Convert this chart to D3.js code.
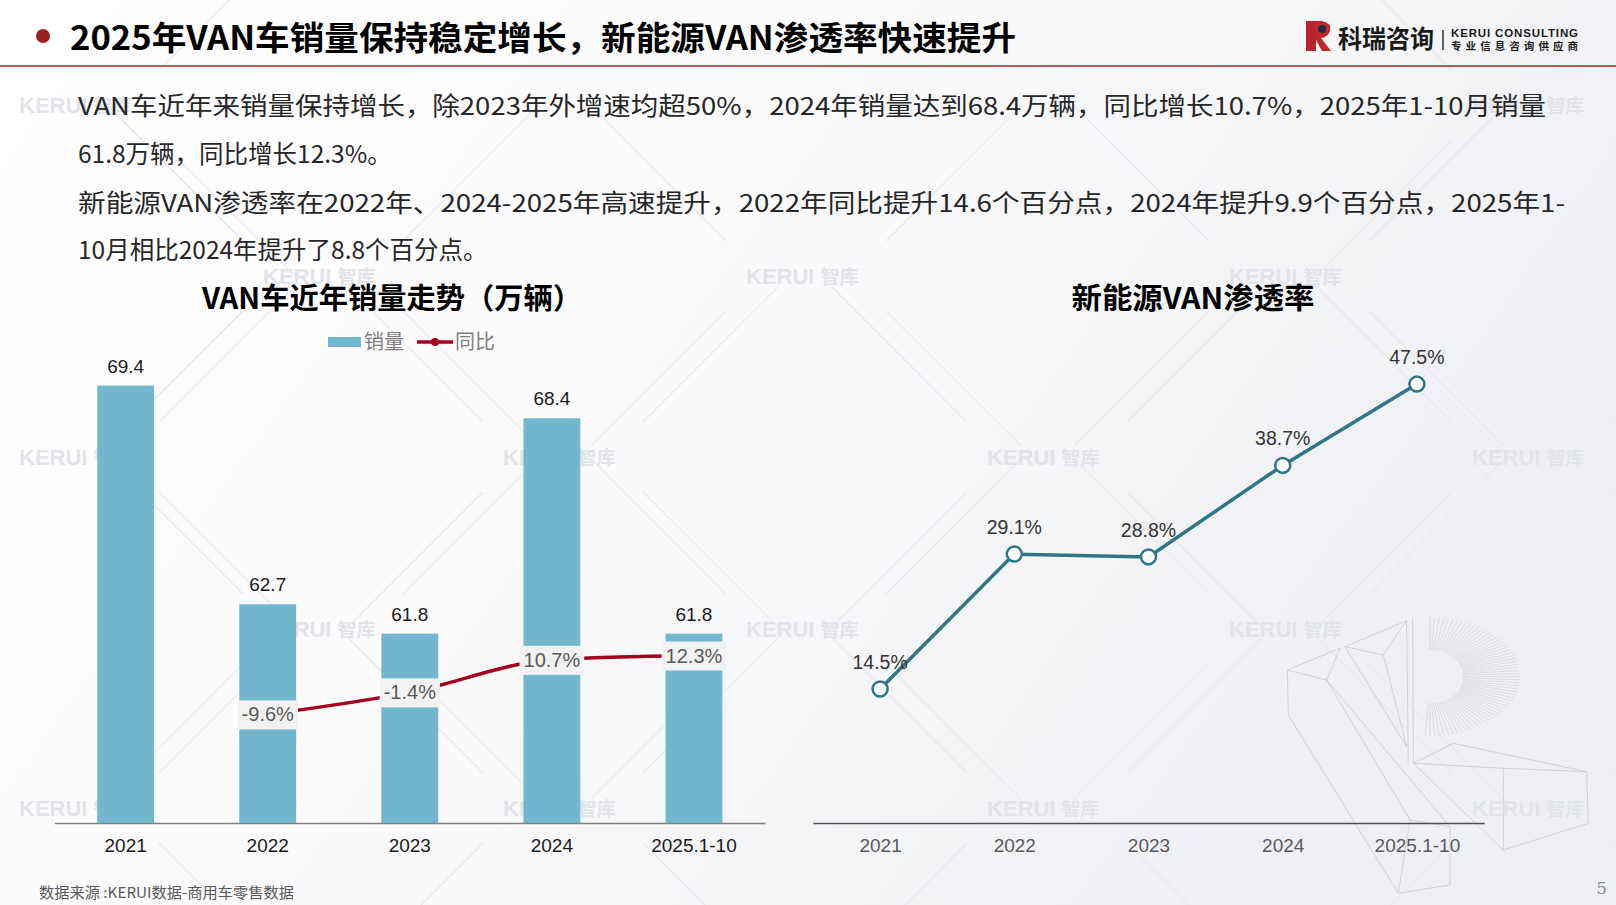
<!DOCTYPE html>
<html>
<head>
<meta charset="utf-8">
<script src="https://cdn.jsdelivr.net/npm/d3@7"></script>
<style>
  body { margin: 0; background: #fff; }
  svg { display: block; }
</style>
</head>
<body>
<div id="chart-area"></div>
<script>
// data
var years = ['2021', '2022', '2023', '2024', '2025.1-10']
var sales = [69.4, 62.7, 61.8, 68.4, 61.8]          // 万辆
var yoy = [null, -9.6, -1.4, 10.7, 12.3]             // %
var nevRate = [14.5, 29.1, 28.8, 38.7, 47.5]         // %

var pageTitle = '2025年VAN车销量保持稳定增长，新能源VAN渗透率快速提升'
var paraLines = [
  'VAN车近年来销量保持增长，除2023年外增速均超50%，2024年销量达到68.4万辆，同比增长10.7%，2025年1-10月销量',
  '61.8万辆，同比增长12.3%。',
  '新能源VAN渗透率在2022年、2024-2025年高速提升，2022年同比提升14.6个百分点，2024年提升9.9个百分点，2025年1-',
  '10月相比2024年提升了8.8个百分点。'
]

var W = 1616, H = 905
var cjk = '"Noto Sans CJK SC", "Noto Sans", sans-serif'
var latin = '"Liberation Sans", Arial, sans-serif'
var fmt1 = function(v){ return d3.format('.1f')(v).replace('\u2212', '-') }

var svg = d3.select('#chart-area').append('svg')
  .attr('width', W)
  .attr('height', H)

// background
var defs = svg.append('defs')
var bg = defs.append('linearGradient').attr('id', 'bg')
  .attr('x1', 0).attr('y1', 0).attr('x2', 1).attr('y2', 0.4)
bg.append('stop').attr('offset', '0%').attr('stop-color', '#ffffff')
bg.append('stop').attr('offset', '45%').attr('stop-color', '#fbfbfc')
bg.append('stop').attr('offset', '100%').attr('stop-color', '#eff0f3')
svg.append('rect').attr('width', W).attr('height', H).attr('fill', 'url(#bg)')

// faint lattice lines + watermarks
var marks = [[19, 105], [1472, 105]]
;[457, 808].forEach(function(y){ [19, 503, 987, 1472].forEach(function(x){ marks.push([x, y]) }) })
;[276, 629].forEach(function(y){ [263, 746, 1229].forEach(function(x){ marks.push([x, y]) }) })

var deco = svg.append('g')
marks.forEach(function(m){
  var cx = m[0] + 60, cy = m[1]
  ;[[1,1],[1,-1],[-1,1],[-1,-1]].forEach(function(d){
    deco.append('line')
      .attr('x1', cx + d[0]*80).attr('y1', cy + d[1]*35)
      .attr('x2', cx + d[0]*215).attr('y2', cy + d[1]*170)
      .attr('stroke', '#e8e9ec').attr('stroke-width', 1.2)
  })
})

// wireframe ornament bottom right
var wf = deco.append('g').attr('transform', 'translate(1250,590) scale(0.3333)')
  .attr('fill', 'none').attr('stroke', '#c9cace').attr('stroke-width', 2.4)
var wfLines = [
  [[112,240],[270,175],[230,270],[112,240]],
  [[112,240],[115,375],[445,910],[600,885],[600,710],[480,690],[230,270]],
  [[230,270],[600,710]],
  [[285,170],[470,92],[400,195],[285,170],[470,470]],
  [[400,195],[470,470]],
  [[470,92],[475,515]],
  [[488,85],[490,520],[760,535],[1010,545],[610,460],[490,520]],
  [[760,535],[760,780],[1015,700],[1010,545]],
  [[490,520],[760,780]],
  [[445,910],[480,690]]
]
wfLines.forEach(function(p){ wf.append('path').attr('d', d3.line()(p)) })
d3.range(-90, 95, 3).forEach(function(a){
  var r = a * Math.PI / 180
  wf.append('line')
    .attr('x1', 540 + 100*Math.cos(r)).attr('y1', 260 + 80*Math.sin(r))
    .attr('x2', 540 + 270*Math.cos(r)).attr('y2', 260 + 178*Math.sin(r))
    .attr('stroke-width', 1.6)
})

marks.forEach(function(m){
  var t = deco.append('text').attr('x', m[0]).attr('y', m[1] + 8)
    .attr('fill', '#e2e4e9').attr('font-size', '22px').attr('font-weight', 'bold')
  t.append('tspan').attr('font-family', latin).text('KERUI ')
  t.append('tspan').attr('font-family', cjk).attr('font-size', '19px').text('智库')
})

// header
svg.append('circle').attr('cx', 43).attr('cy', 36).attr('r', 7).attr('fill', '#9c1f22')
svg.append('text')
  .attr('x', 70).attr('y', 50)
  .attr('font-family', cjk).attr('font-weight', 'bold').attr('font-size', '33px')
  .attr('fill', '#000')
  .attr('textLength', 946).attr('lengthAdjust', 'spacingAndGlyphs')
  .text(pageTitle)
svg.append('line').attr('x1', 0).attr('x2', W).attr('y1', 66).attr('y2', 66)
  .attr('stroke', '#a3292b').attr('stroke-width', 1.5)

// logo
var logo = svg.append('g')
logo.append('path').attr('d', 'M1306,21 L1316,21 L1316,51 L1306,51 Z').attr('fill', '#b3262b')
logo.append('path').attr('d', 'M1316,21 L1322,21 Q1332,23 1330,31 Q1328,37 1321,38 L1331,51 L1322,51 L1316,40 Z').attr('fill', '#c0272d')
logo.append('circle').attr('cx', 1322).attr('cy', 29).attr('r', 4).attr('fill', '#1f2a44')
logo.append('text').attr('x', 1338).attr('y', 48)
  .attr('font-family', cjk).attr('font-weight', 'bold').attr('font-size', '25px')
  .attr('fill', '#1a1a1a').attr('textLength', 96).attr('lengthAdjust', 'spacingAndGlyphs')
  .text('科瑞咨询')
logo.append('line').attr('x1', 1443).attr('x2', 1443).attr('y1', 30).attr('y2', 50)
  .attr('stroke', '#333').attr('stroke-width', 1.5)
logo.append('text').attr('x', 1451).attr('y', 37)
  .attr('font-family', latin).attr('font-weight', 'bold').attr('font-size', '11.5px')
  .attr('fill', '#1a1a1a').attr('textLength', 127).attr('lengthAdjust', 'spacing')
  .text('KERUI CONSULTING')
logo.append('text').attr('x', 1451).attr('y', 50)
  .attr('font-family', cjk).attr('font-weight', 'bold').attr('font-size', '10.5px')
  .attr('fill', '#1a1a1a').attr('textLength', 127).attr('lengthAdjust', 'spacing')
  .text('专业信息咨询供应商')

// paragraph
var paraY = [115, 163, 212, 259]
var paraLen = [1468, null, 1487, null]
paraLines.forEach(function(s, i){
  var t = svg.append('text')
    .attr('x', 78).attr('y', paraY[i])
    .attr('font-family', cjk).attr('font-size', '24.5px')
    .attr('fill', '#262626')
    .text(s)
  if (paraLen[i]) t.attr('textLength', paraLen[i]).attr('lengthAdjust', 'spacingAndGlyphs')
})

// ---------- left chart: bars + yoy line ----------
var base = 823
var xBand = d3.scaleBand()
  .domain(years)
  .range([54.6, 765])
  .paddingInner(0.6)
  .paddingOuter(0.3)

var ySales = d3.scaleLinear()
  .domain([56, 70])
  .range([base, base - 457])

var yYoy = d3.scaleLinear()
  .domain([-50, 120])
  .range([base, base - 457])

var left = svg.append('g')

left.append('text')
  .attr('x', 392).attr('y', 309)
  .attr('text-anchor', 'middle')
  .attr('font-family', cjk).attr('font-weight', 'bold').attr('font-size', '29px')
  .attr('fill', '#000')
  .attr('textLength', 380).attr('lengthAdjust', 'spacingAndGlyphs')
  .text('VAN车近年销量走势（万辆）')

// legend
var lg = left.append('g').attr('transform', 'translate(0,342)')
lg.append('rect').attr('x', 328).attr('y', -5).attr('width', 33).attr('height', 10).attr('fill', '#73b7cf')
lg.append('text').attr('x', 364).attr('y', 7)
  .attr('font-family', cjk).attr('font-size', '20px').attr('fill', '#7f7f7f').text('销量')
lg.append('line').attr('x1', 417).attr('x2', 453).attr('y1', 0).attr('y2', 0)
  .attr('stroke', '#a50021').attr('stroke-width', 3.5)
lg.append('circle').attr('cx', 435).attr('cy', 0).attr('r', 4).attr('fill', '#a50021')
lg.append('text').attr('x', 455).attr('y', 7)
  .attr('font-family', cjk).attr('font-size', '20px').attr('fill', '#7f7f7f').text('同比')

var salesData = years.map(function(y, i){ return {year: y, v: sales[i]} })

left.selectAll('rect.bar')
  .data(salesData)
  .enter()
  .append('rect')
  .attr('class', 'bar')
  .attr('x', function(d){ return xBand(d.year) })
  .attr('y', function(d){ return ySales(d.v) })
  .attr('width', xBand.bandwidth())
  .attr('height', function(d){ return base - ySales(d.v) })
  .attr('fill', '#73b7cf')

left.selectAll('text.barlabel')
  .data(salesData)
  .enter()
  .append('text')
  .attr('class', 'barlabel')
  .attr('x', function(d){ return xBand(d.year) + xBand.bandwidth()/2 })
  .attr('y', function(d){ return ySales(d.v) - 13 })
  .attr('text-anchor', 'middle')
  .attr('font-family', latin).attr('font-size', '19px').attr('fill', '#1a1a1a')
  .text(function(d){ return fmt1(d.v) })

// x axis
var xAxisL = d3.axisBottom(xBand).tickSize(0).tickPadding(16)
var gxl = left.append('g').attr('transform', 'translate(0,' + base + ')').call(xAxisL)
gxl.select('.domain').attr('stroke', '#7f7f7f').attr('stroke-width', 1.5)
gxl.selectAll('text').attr('font-family', latin).attr('font-size', '19px').attr('fill', '#1a1a1a')

// yoy line
var yoyData = years.map(function(y, i){ return {year: y, v: yoy[i]} })
  .filter(function(d){ return d.v !== null })
var cx = function(d){ return xBand(d.year) + xBand.bandwidth()/2 }

left.append('path')
  .datum(yoyData)
  .attr('fill', 'none')
  .attr('stroke', '#a50021')
  .attr('stroke-width', 3.5)
  .attr('d', d3.line().x(cx).y(function(d){ return yYoy(d.v) }).curve(d3.curveMonotoneX))

left.selectAll('circle.yoy')
  .data(yoyData)
  .enter()
  .append('circle')
  .attr('class', 'yoy')
  .attr('cx', cx)
  .attr('cy', function(d){ return yYoy(d.v) })
  .attr('r', 4)
  .attr('fill', '#a50021')

var yl = left.selectAll('g.yoylabel')
  .data(yoyData)
  .enter()
  .append('g')
  .attr('class', 'yoylabel')
  .attr('transform', function(d){ return 'translate(' + cx(d) + ',' + yYoy(d.v) + ')' })
yl.append('rect').attr('fill', '#f2f2f2')
var ylText = yl.append('text')
  .attr('y', 7)
  .attr('text-anchor', 'middle')
  .attr('font-family', latin).attr('font-size', '20px').attr('fill', '#595959')
  .text(function(d){ return fmt1(d.v) + '%' })
ylText.each(function(){
  var w = this.getComputedTextLength() + 8
  d3.select(this.parentNode).select('rect')
    .attr('x', -w/2).attr('y', -14).attr('width', w).attr('height', 29)
})

// ---------- right chart: NEV penetration ----------
var xPt = d3.scalePoint()
  .domain(years)
  .range([813, 1484])
  .padding(0.5)

var yRate = d3.scaleLinear()
  .domain([0, 50])
  .range([base, base - 462])

var right = svg.append('g')

right.append('text')
  .attr('x', 1193).attr('y', 309)
  .attr('text-anchor', 'middle')
  .attr('font-family', cjk).attr('font-weight', 'bold').attr('font-size', '29px')
  .attr('fill', '#000')
  .attr('textLength', 243).attr('lengthAdjust', 'spacingAndGlyphs')
  .text('新能源VAN渗透率')

var xAxisR = d3.axisBottom(xPt).tickSize(0).tickPadding(16)
var gxr = right.append('g').attr('transform', 'translate(0,' + base + ')').call(xAxisR)
gxr.select('.domain').attr('stroke', '#4d4d55').attr('stroke-width', 1.5)
gxr.selectAll('text').attr('font-family', latin).attr('font-size', '19px').attr('fill', '#595959')

var rateData = years.map(function(y, i){ return {year: y, v: nevRate[i]} })

right.append('path')
  .datum(rateData)
  .attr('fill', 'none')
  .attr('stroke', '#2f7689')
  .attr('stroke-width', 3.5)
  .attr('d', d3.line().x(function(d){ return xPt(d.year) }).y(function(d){ return yRate(d.v) }))

right.selectAll('circle.rate')
  .data(rateData)
  .enter()
  .append('circle')
  .attr('class', 'rate')
  .attr('cx', function(d){ return xPt(d.year) })
  .attr('cy', function(d){ return yRate(d.v) })
  .attr('r', 7.5)
  .attr('fill', '#fff')
  .attr('stroke', '#2f7689')
  .attr('stroke-width', 2.5)

right.selectAll('text.ratelabel')
  .data(rateData)
  .enter()
  .append('text')
  .attr('class', 'ratelabel')
  .attr('x', function(d){ return xPt(d.year) })
  .attr('y', function(d){ return yRate(d.v) - 20 })
  .attr('text-anchor', 'middle')
  .attr('font-family', latin).attr('font-size', '19.5px').attr('fill', '#333')
  .text(function(d){ return fmt1(d.v) + '%' })

// footer
svg.append('text')
  .attr('x', 39).attr('y', 898)
  .attr('font-family', cjk).attr('font-size', '15px').attr('fill', '#595959')
  .attr('textLength', 255).attr('lengthAdjust', 'spacingAndGlyphs')
  .text('数据来源 :KERUI数据-商用车零售数据')
svg.append('text')
  .attr('x', 1607).attr('y', 894)
  .attr('text-anchor', 'end')
  .attr('font-family', '"DejaVu Serif", serif').attr('font-size', '17px').attr('fill', '#8c8c8c')
  .text('5')
</script>
</body>
</html>
